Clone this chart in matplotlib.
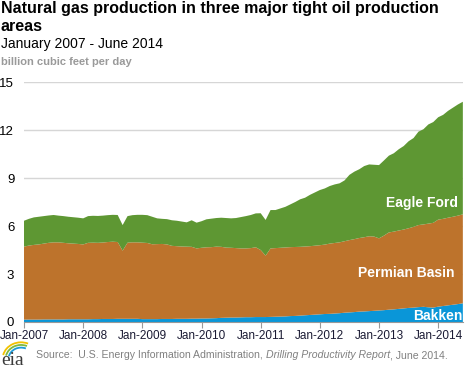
import numpy as np
import matplotlib
matplotlib.use("Agg")
import matplotlib.pyplot as plt
from matplotlib.patches import Arc

plt.rcParams['font.family'] = ['Liberation Sans', 'DejaVu Sans']

# monthly values, Jan 2007 - Jun 2014 (billion cubic feet per day)
bakken = [0.15, 0.15, 0.15, 0.15, 0.16, 0.16, 0.16, 0.16, 0.16, 0.17, 0.17, 0.17,
          0.17, 0.17, 0.18, 0.18, 0.19, 0.19, 0.19, 0.20, 0.20, 0.20, 0.20, 0.20,
          0.18, 0.18, 0.18, 0.18, 0.19, 0.19, 0.19, 0.20, 0.20, 0.20, 0.21, 0.21,
          0.22, 0.22, 0.23, 0.24, 0.26, 0.27, 0.28, 0.28, 0.29, 0.30, 0.30, 0.31,
          0.31, 0.31, 0.32, 0.33, 0.34, 0.35, 0.37, 0.38, 0.40, 0.42, 0.44, 0.46,
          0.48, 0.50, 0.51, 0.53, 0.55, 0.58, 0.60, 0.62, 0.65, 0.66, 0.68, 0.70,
          0.72, 0.74, 0.77, 0.79, 0.82, 0.85, 0.88, 0.90, 0.93, 0.95, 0.92, 0.90,
          0.96, 1.00, 1.04, 1.08, 1.12, 1.17]
permian = [4.56, 4.63, 4.67, 4.70, 4.74, 4.79, 4.82, 4.82, 4.79, 4.75, 4.73, 4.71,
           4.68, 4.78, 4.78, 4.77, 4.78, 4.81, 4.83, 4.80, 4.26, 4.76, 4.78, 4.78,
           4.78, 4.76, 4.68, 4.69, 4.69, 4.66, 4.57, 4.54, 4.52, 4.51, 4.49, 4.39,
           4.42, 4.45, 4.45, 4.47, 4.44, 4.38, 4.36, 4.34, 4.31, 4.30, 4.32, 4.36,
           4.19, 3.84, 4.28, 4.29, 4.30, 4.31, 4.31, 4.31, 4.30, 4.30, 4.30, 4.31,
           4.32, 4.34, 4.39, 4.41, 4.43, 4.47, 4.52, 4.56, 4.60, 4.64, 4.68, 4.64,
           4.51, 4.66, 4.83, 4.86, 4.90, 4.93, 4.98, 5.05, 5.13, 5.15, 5.23, 5.30,
           5.44, 5.45, 5.48, 5.50, 5.53, 5.56]
eagle_ford = [1.62, 1.67, 1.72, 1.73, 1.72, 1.71, 1.71, 1.67, 1.67, 1.66, 1.65, 1.64,
              1.63, 1.67, 1.68, 1.68, 1.68, 1.68, 1.68, 1.69, 1.60, 1.66, 1.70, 1.72,
              1.74, 1.74, 1.72, 1.61, 1.57, 1.58, 1.60, 1.59, 1.56, 1.52, 1.66, 1.61,
              1.66, 1.75, 1.78, 1.79, 1.82, 1.85, 1.84, 1.88, 1.96, 2.02, 2.07, 2.12,
              2.30, 2.23, 2.40, 2.38, 2.46, 2.54, 2.67, 2.81, 2.97, 3.05, 3.21, 3.33,
              3.45, 3.51, 3.60, 3.66, 3.69, 3.80, 4.08, 4.22, 4.30, 4.45, 4.49, 4.49,
              4.58, 4.70, 4.80, 4.90, 5.08, 5.22, 5.44, 5.55, 5.84, 5.95, 6.20, 6.30,
              6.40, 6.50, 6.68, 6.82, 6.95, 7.04]
tick_labels = ['Jan-2007', 'Jan-2008', 'Jan-2009', 'Jan-2010',
               'Jan-2011', 'Jan-2012', 'Jan-2013', 'Jan-2014']
y_ticks = [0, 3, 6, 9, 12, 15]

months = np.arange(len(bakken))

fig = plt.figure(figsize=(4.68, 3.68), dpi=100)
ax = fig.add_axes([0.0513, 0.125, 0.9377, 0.652])

ax.stackplot(months, bakken, permian, eagle_ford,
             colors=['#0a96d8', '#bd732c', '#5e9733'], linewidth=0)

ax.set_xlim(0, months[-1])
ax.set_ylim(0, 15)
ax.set_yticks(y_ticks)
ax.set_xticks(np.arange(0, len(months), 12))
ax.set_xticklabels(tick_labels)
ax.grid(axis='y', color='#d6d6d6', linewidth=1)
ax.set_axisbelow(True)
for s in ['top', 'right', 'left']:
    ax.spines[s].set_visible(False)
ax.spines['bottom'].set_color('#999999')
ax.tick_params(axis='y', length=0, pad=7, labelsize=9.5)
ax.tick_params(axis='x', length=4, color='#999999', labelsize=8.5, pad=2,
               labelcolor='#1a1a33')

ax.text(80.7, 7.44, 'Eagle Ford', color='white', fontsize=10, fontweight='bold',
        ha='center', va='center')
ax.text(77.5, 3.08, 'Permian Basin', color='white', fontsize=10, fontweight='bold',
        ha='center', va='center')
ax.text(83.9, 0.37, 'Bakken', color='white', fontsize=10, fontweight='bold',
        ha='center', va='center')

fig.text(0.002, 0.997, 'Natural gas production in three major tight oil production\nareas',
         fontsize=11.5, fontweight='bold', va='top', ha='left', linespacing=1.2)
fig.text(0.002, 0.9, 'January 2007 - June 2014', fontsize=10, va='top', ha='left')
fig.text(0.002, 0.846, 'billion cubic feet per day', fontsize=8, fontweight='bold',
         color='#9a9a9a', va='top', ha='left')

# source line, pieces placed one after another
renderer = fig.canvas.get_renderer()
x0 = 36
pieces = [('Source:  U.S. Energy Information Administration, ', 'normal'),
          ('Drilling Productivity Report', 'italic'),
          (', June 2014.', 'normal')]
for txt, st in pieces:
    t = fig.text(x0 / 468, 0.027, txt, fontsize=7.6, color='#808080', style=st,
                 ha='left', va='baseline')
    x0 += t.get_window_extent(renderer).width

# eia logo
fig.text(0.002, 0.008, 'eia', fontsize=14, color='#3a3a3a', family='Liberation Serif',
         ha='left', va='baseline')
for r, c in [(0.056, '#f2c200'), (0.047, '#7fb83f'), (0.038, '#1f9bd7')]:
    fig.patches.append(Arc((0.045, 0.025), r * 1.4, r * 1.6, theta1=70, theta2=165,
                           transform=fig.transFigure, color=c, linewidth=1.3))

fig.savefig('out.png', dpi=100)
